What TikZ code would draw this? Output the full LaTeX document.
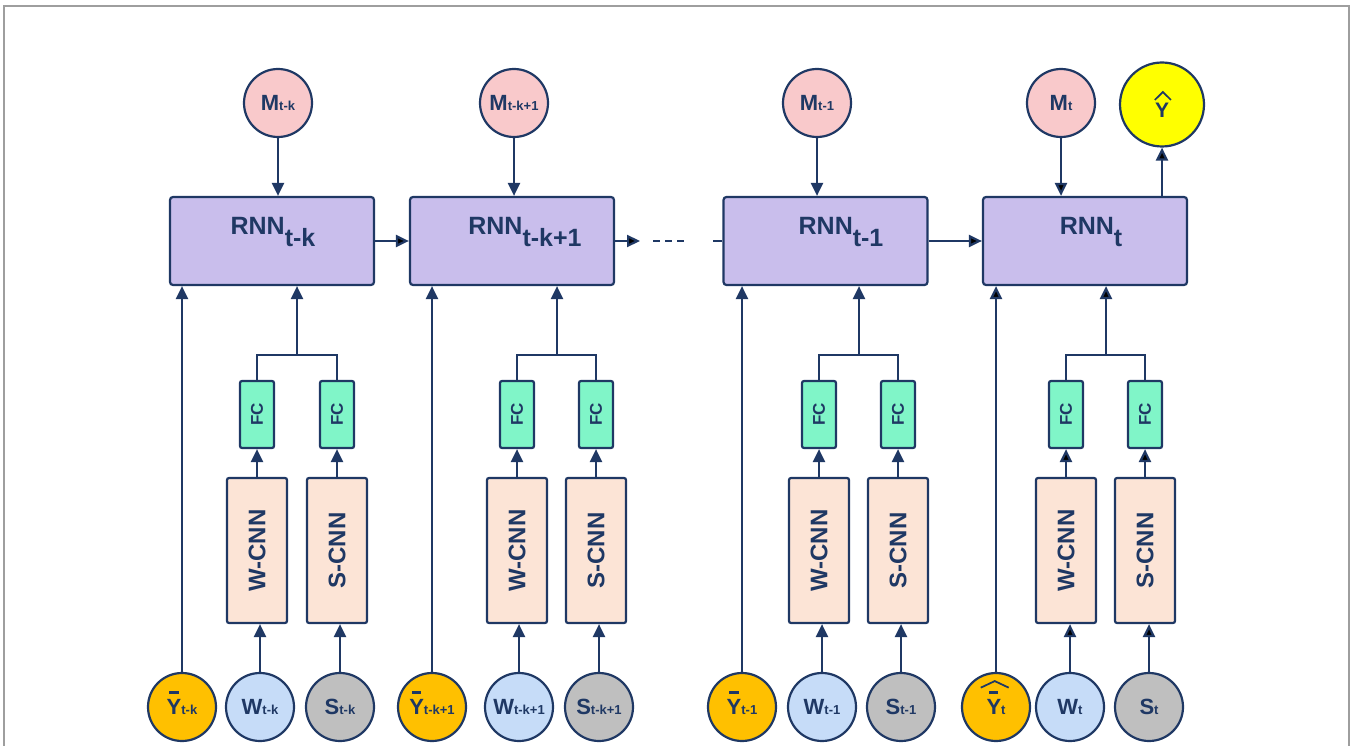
\documentclass[tikz,border=0pt]{standalone}
\usepackage{fontspec}
\setmainfont{Liberation Sans}
\usepackage{graphicx}
\usetikzlibrary{arrows.meta,calc}
\definecolor{navy}{HTML}{1F3864}
\definecolor{rnnc}{HTML}{C9BEEC}
\definecolor{mc}{HTML}{F9C9CB}
\definecolor{ybc}{HTML}{FFC000}
\definecolor{wc}{HTML}{C6DCF8}
\definecolor{sc}{HTML}{BFBFBF}
\definecolor{cnnc}{HTML}{FCE4D6}
\definecolor{fcc}{HTML}{80F5C8}
\definecolor{yel}{HTML}{FFFF00}
\newcommand{\ybar}{\rlap{\smash{\hspace{0.12em}\raisebox{0.92em}{\rule{0.42em}{0.15em}}}}Y}
\newcommand{\chev}[2]{\tikz[baseline=0pt,x=1em,y=1em]\draw[navy,line width=0.08em] (0,0) -- (#1/2,#2) -- (#1,0);}
\newcommand{\yhb}{\rlap{\smash{\hspace{-0.3em}\raisebox{1.22em}{\chev{1.27}{0.3}}}}\ybar}
\newcommand{\yhatsym}{\rlap{\hspace{-0.05em}\raisebox{0.85em}{\chev{0.77}{0.38}}}Y}
\newcommand{\clab}[2]{{\fontsize{22}{22}\selectfont #1}{\fontsize{13}{13}\selectfont #2}}
\tikzset{
  ln/.style={draw=navy, line width=2.2pt},
  arr/.style={ln, -{Triangle[length=13pt,width=12pt]}},
  rnnbox/.style={ln, fill=rnnc, rounded corners=3pt, minimum width=204pt, minimum height=88pt, inner sep=0pt},
  rnntext/.style={text=navy, font=\bfseries\fontsize{25}{25}\selectfont, inner sep=0pt},
  circ/.style={ln, circle, minimum size=68pt, inner sep=0pt, text=navy, font=\bfseries},
  mcirc/.style={circ, fill=mc},
  ycirc/.style={circ, fill=ybc},
  wcirc/.style={circ, fill=wc},
  scirc/.style={circ, fill=sc},
  yelcirc/.style={circ, fill=yel, minimum size=84pt},
  cnnbox/.style={ln, fill=cnnc, rounded corners=2pt, minimum width=60pt, minimum height=145pt, inner sep=0pt, text=navy, font=\bfseries\fontsize{24}{24}\selectfont},
  fcbox/.style={ln, fill=fcc, rounded corners=2pt, minimum width=34pt, minimum height=67pt, inner sep=0pt, text=navy, font=\bfseries\fontsize{17}{17}\selectfont},
}
\begin{document}
\begin{tikzpicture}[x=1pt,y=-1pt]
\useasboundingbox (0,0) rectangle (1352,746);
\draw[draw=black!38, line width=1.2pt] (4,760) -- (4,6) -- (1349,6) -- (1349,760);
\foreach \i/\rx/\tx/\mx/\yx/\wx/\sx/\wcx/\scx/\sub/\ysym in {
 1/272/273/278/182/257/337/260/340/t-k/\ybar,
 2/512/525/514/432/517/596/519/599/t-k+1/\ybar,
 3/825.5/841/817/742/819/898/822/901/t-1/\ybar,
 4/1085/1091/1061/996/1066/1145/1070/1149/t/\yhb}{
 \node[rnnbox] (r\i) at (\rx,241) {};
 \node[rnntext, anchor=base] (rt\i) at (\tx,235) {RNN\raisebox{-0.48em}{\sub}};
 \node[mcirc] (m\i) at (\mx,103) {\clab{M}{\sub}};
 \node[ycirc] (y\i) at (\yx,707) {\clab{\ysym}{\sub}};
 \node[wcirc] (wc\i) at (\wcx,707) {\clab{W}{\sub}};
 \node[scirc] (sc\i) at (\scx,707) {\clab{S}{\sub}};
 \node[cnnbox] (wn\i) at (\wx,550.5) {\rotatebox{90}{W-CNN}};
 \node[cnnbox] (sn\i) at (\sx,550.5) {\rotatebox{90}{S-CNN}};
 \node[fcbox] (fw\i) at (\wx,414.5) {\rotatebox{90}{FC}};
 \node[fcbox] (fs\i) at (\sx,414.5) {\rotatebox{90}{FC}};
 \coordinate (mg\i) at ({round((\wx+\sx)/2)},355);
 \draw[arr] (m\i.south) -- (m\i.south |- r\i.north);
 \draw[arr] (y\i.north) -- (y\i.north |- r\i.south);
 \draw[arr] (wc\i.north) -- (wc\i.north |- wn\i.south);
 \draw[arr] (sc\i.north) -- (sc\i.north |- sn\i.south);
 \draw[arr] (wn\i.north) -- (fw\i.south);
 \draw[arr] (sn\i.north) -- (fs\i.south);
 \draw[ln] (fw\i.north) |- (mg\i) -| (fs\i.north);
 \draw[arr] (mg\i) -- (mg\i |- r\i.south);
}
\node[yelcirc] (yh) at (1162,104.5) {\fontsize{21}{21}\selectfont\yhatsym};
\draw[arr] (yh.south |- r4.north) -- (yh.south);
\coordinate (d1) at (640,241);
\coordinate (d2) at (653,241);
\coordinate (d3) at (684,241);
\coordinate (d4) at (713,241);
\draw[arr] (r1.east) -- (r2.west);
\draw[arr] (r2.east) -- (d1);
\draw[ln, dash pattern=on 7pt off 5pt] (d2) -- (d3);
\draw[ln] (d4) -- (r3.west);
\draw[arr] (r3.east) -- (r4.west);
\end{tikzpicture}
\end{document}
